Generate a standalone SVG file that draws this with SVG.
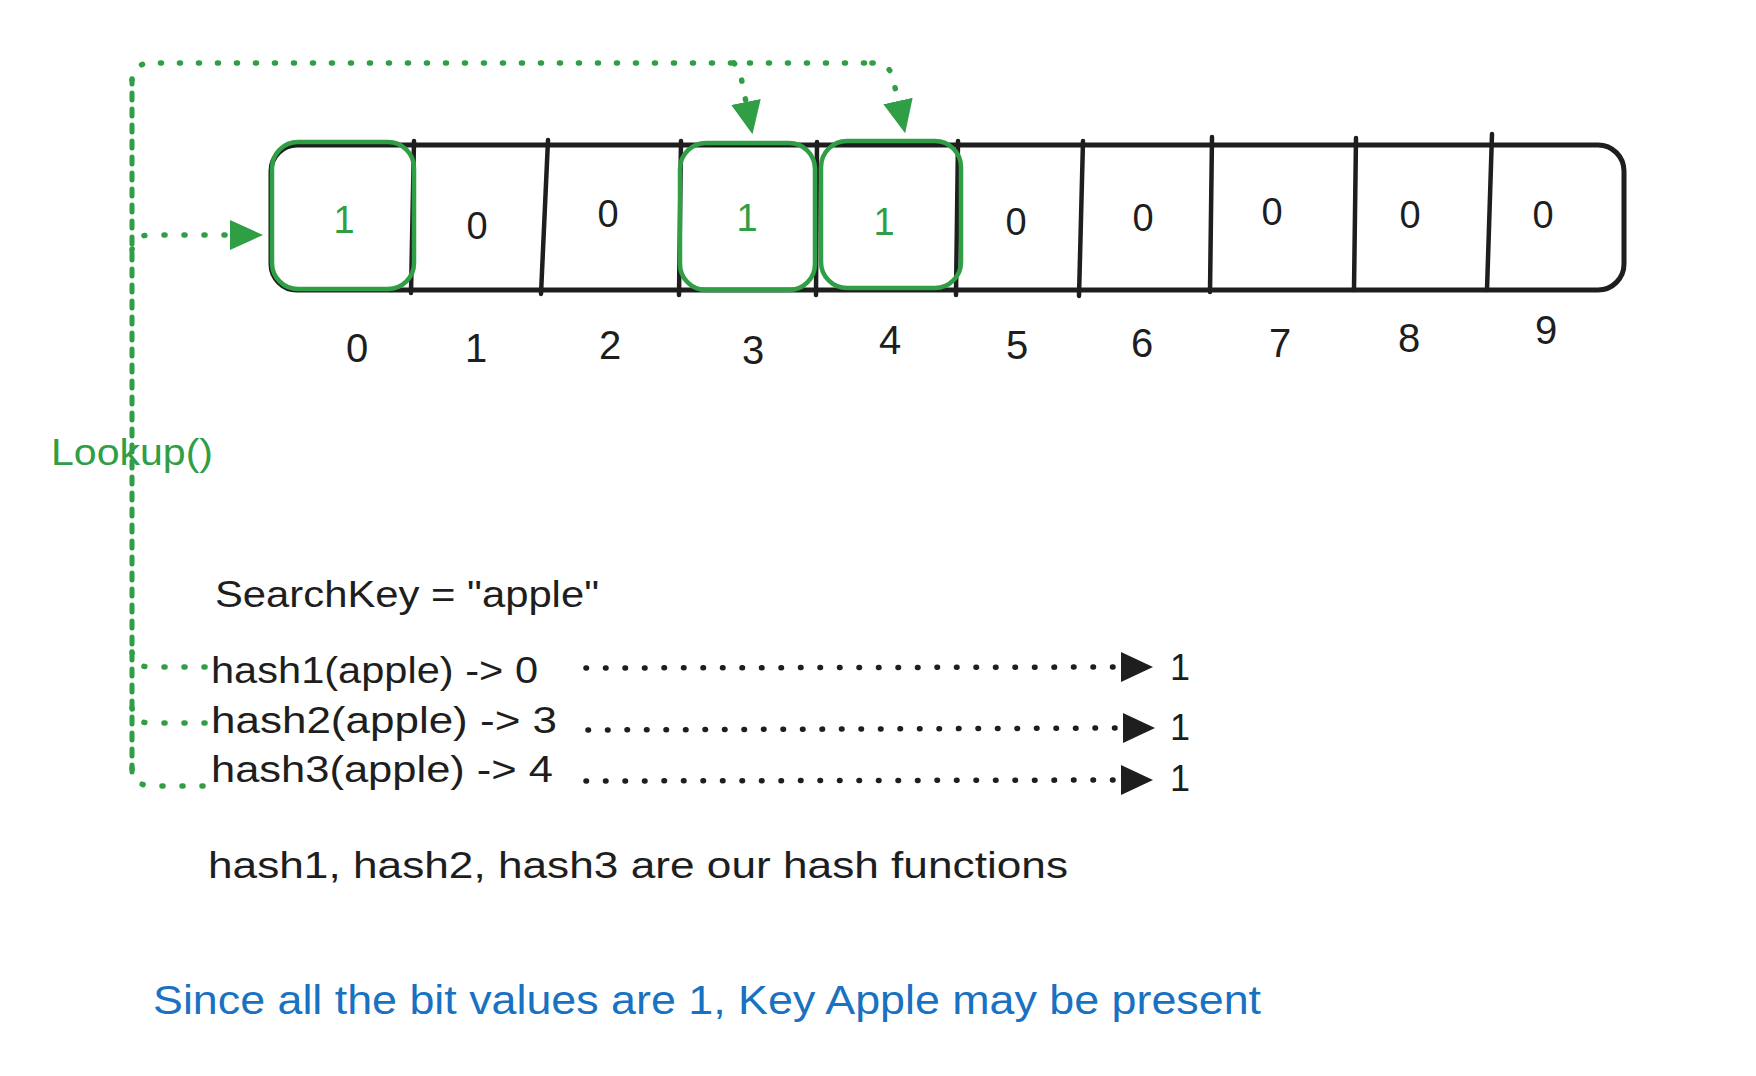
<svg xmlns="http://www.w3.org/2000/svg" width="1756" height="1076" viewBox="0 0 1756 1076">
<style>
  .bg{fill:#ffffff}
  .arr{fill:none;stroke:#1e1e1e;stroke-width:5;stroke-linejoin:round}
  .div{stroke:#1e1e1e;stroke-width:4.5;stroke-linecap:round}
  .hl{fill:none;stroke:#2f9e44;stroke-width:4.5}
  .t{font-family:"Liberation Sans",Arial,sans-serif;fill:#1e1e1e}
  .g{fill:#2f9e44}
  .b{fill:#1971c2}
  .val{font-size:38px;text-anchor:middle}
  .idx{font-size:40px;text-anchor:middle}
  .gdh{fill:none;stroke:#2f9e44;stroke-width:5.5;stroke-linecap:round;stroke-dasharray:1 18}
  .gdv{fill:none;stroke:#2f9e44;stroke-width:5;stroke-linecap:round;stroke-dasharray:7 9}
  .gds{fill:none;stroke:#2f9e44;stroke-width:5.5;stroke-linecap:round;stroke-dasharray:1 19}
  .bd{fill:none;stroke:#1e1e1e;stroke-width:5.5;stroke-linecap:round;stroke-dasharray:0.5 19}
</style>
<defs>
  <marker id="ah-black" markerUnits="userSpaceOnUse" viewBox="0 0 32 30" refX="0" refY="15" markerWidth="32" markerHeight="30" orient="auto">
    <path d="M0,0 L32,15 L0,30 Z" fill="#1e1e1e"/>
  </marker>
  <marker id="ah-green" markerUnits="userSpaceOnUse" viewBox="0 0 33 30" refX="0" refY="15" markerWidth="33" markerHeight="30" orient="auto">
    <path d="M0,0 L33,15 L0,30 Z" fill="#2f9e44"/>
  </marker>
</defs>
<rect class="bg" x="0" y="0" width="1756" height="1076"/>

<g id="connectors">
  <path class="gdv" d="M132,772 L132,80"/>
  <path class="gdh" d="M132,80 Q133,63 152,63 L872,63"/>
  <path class="gdh" d="M872,63 Q892,63 894,83 L898,101" marker-end="url(#ah-green)"/>
  <path class="gdh" d="M734,63 Q740,70 742,82 L746,102" marker-end="url(#ah-green)"/>
  <path class="gds" d="M132,250 Q134,235 150,235 L230,235" marker-end="url(#ah-green)"/>
  <path class="gds" d="M132,652 Q134,667 150,667 L205,667"/>
  <path class="gds" d="M132,708 Q134,723 150,723 L205,723"/>
  <path class="gds" d="M132,768 Q134,786 152,786 L205,786"/>
  <path class="bd" d="M586,668 L1121,667" marker-end="url(#ah-black)"/>
  <path class="bd" d="M588,730 L1123,728" marker-end="url(#ah-black)"/>
  <path class="bd" d="M586,781 L1121,780" marker-end="url(#ah-black)"/>
</g>

<g id="bit-array">
  <rect class="arr" x="271" y="145" width="1353" height="145" rx="26" ry="26"/>
  <line class="div" x1="414" y1="141" x2="411" y2="293"/>
  <line class="div" x1="548" y1="140" x2="541" y2="294"/>
  <line class="div" x1="681" y1="141" x2="679" y2="295"/>
  <line class="div" x1="817" y1="142" x2="816" y2="295"/>
  <line class="div" x1="958" y1="141" x2="956" y2="295"/>
  <line class="div" x1="1083" y1="141" x2="1079" y2="296"/>
  <line class="div" x1="1212" y1="137" x2="1210" y2="292"/>
  <line class="div" x1="1356" y1="138" x2="1354" y2="290"/>
  <line class="div" x1="1492" y1="134" x2="1487" y2="290"/>
</g>

<g id="cell-0"><rect class="hl" x="272" y="142" width="142" height="147" rx="26"/><text class="t g val" x="344" y="233">1</text></g>
<g id="cell-1"><text class="t val" x="477" y="239">0</text></g>
<g id="cell-2"><text class="t val" x="608" y="227">0</text></g>
<g id="cell-3"><rect class="hl" x="680" y="143" width="135" height="147" rx="26"/><text class="t g val" x="747" y="231">1</text></g>
<g id="cell-4"><rect class="hl" x="821" y="141" width="140" height="147" rx="26"/><text class="t g val" x="884" y="235">1</text></g>
<g id="cell-5"><text class="t val" x="1016" y="235">0</text></g>
<g id="cell-6"><text class="t val" x="1143" y="231">0</text></g>
<g id="cell-7"><text class="t val" x="1272" y="225">0</text></g>
<g id="cell-8"><text class="t val" x="1410" y="228">0</text></g>
<g id="cell-9"><text class="t val" x="1543" y="228">0</text></g>

<g id="indices">
  <text class="t idx" x="357" y="362">0</text>
  <text class="t idx" x="476" y="362">1</text>
  <text class="t idx" x="610" y="359">2</text>
  <text class="t idx" x="753" y="364">3</text>
  <text class="t idx" x="890" y="354">4</text>
  <text class="t idx" x="1017" y="359">5</text>
  <text class="t idx" x="1142" y="357">6</text>
  <text class="t idx" x="1280" y="357">7</text>
  <text class="t idx" x="1409" y="352">8</text>
  <text class="t idx" x="1546" y="344">9</text>
</g>

<g id="lookup-label"><text class="t g" x="51" y="465" font-size="37" textLength="162" lengthAdjust="spacingAndGlyphs">Lookup()</text></g>
<g id="search-key"><text class="t" x="215" y="607" font-size="36" textLength="384" lengthAdjust="spacingAndGlyphs">SearchKey = "apple"</text></g>
<g id="hash1"><text class="t" x="211" y="683" font-size="36" textLength="327" lengthAdjust="spacingAndGlyphs">hash1(apple) -&gt; 0</text></g>
<g id="hash2"><text class="t" x="211" y="733" font-size="36" textLength="346" lengthAdjust="spacingAndGlyphs">hash2(apple) -&gt; 3</text></g>
<g id="hash3"><text class="t" x="211" y="782" font-size="36" textLength="342" lengthAdjust="spacingAndGlyphs">hash3(apple) -&gt; 4</text></g>
<g id="result1"><text class="t" x="1180" y="680" font-size="36" text-anchor="middle">1</text></g>
<g id="result2"><text class="t" x="1180" y="740" font-size="36" text-anchor="middle">1</text></g>
<g id="result3"><text class="t" x="1180" y="791" font-size="36" text-anchor="middle">1</text></g>
<g id="hash-note"><text class="t" x="208" y="878" font-size="37" textLength="860" lengthAdjust="spacingAndGlyphs">hash1, hash2, hash3 are our hash functions</text></g>
<g id="conclusion"><text class="t b" x="153" y="1014" font-size="40" textLength="1108" lengthAdjust="spacingAndGlyphs">Since all the bit values are 1, Key Apple may be present</text></g>
</svg>
